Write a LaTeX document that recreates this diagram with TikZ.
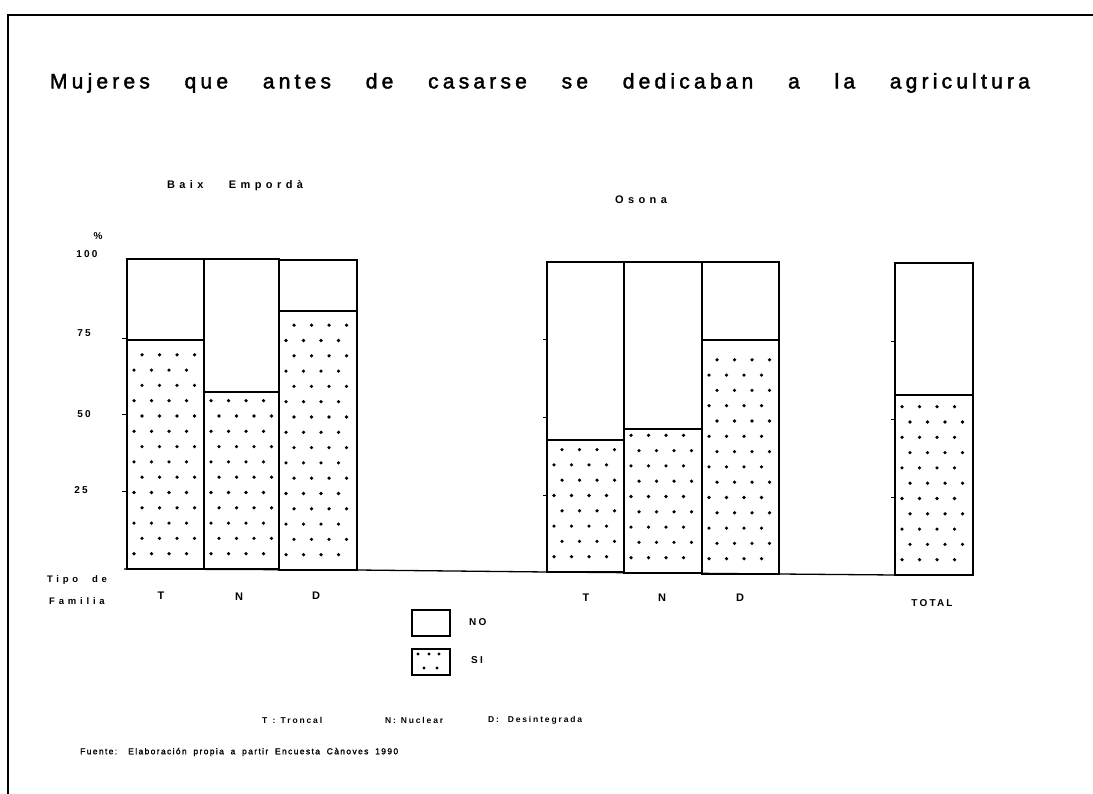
\documentclass[tikz,border=0pt]{standalone}
\usepackage{fontspec}
\setmainfont{Liberation Sans}
\newfontfamily\lblfont[LetterSpace=40]{Liberation Sans}
\newfontfamily\midfont[LetterSpace=22]{Liberation Sans}
\newfontfamily\srcfont[LetterSpace=16,FakeBold=1.5]{Liberation Sans}
\newfontfamily\titlefont[LetterSpace=20,FakeBold=2]{Liberation Sans}
\newcommand\sidots[3]{% left, top of SI part, bottom
  \foreach \k in {1,...,24}{%
    \pgfmathsetmacro\yy{#3-15.3*\k}%
    \pgfmathtruncatemacro\ok{(\yy > #2+6) ? 1 : 0}%
    \ifnum\ok=1
      \pgfmathsetmacro\xo{(mod(\k,2)==1) ? 7 : 15}%
      \foreach \i in {0,...,3}{\fill ({#1+\xo+17.5*\i},\yy) circle (1.8pt);}%
    \fi
  }%
}
\newcommand\stackbar[5]{% left, right, top, si-top, bottom
  \sidots{#1}{#4}{#5}%
  \draw[bar] (#1,#3) rectangle (#2,#5);
  \draw[bar] (#1,#4) -- (#2,#4);
}
\tikzset{
  bar/.style={draw=black, line width=1.3pt},
  frame/.style={draw=black, line width=1.8pt},
  tick/.style={draw=black, line width=0.9pt},
  lbl/.style={font=\lblfont\bfseries\fontsize{11}{12}\selectfont, inner sep=0pt},
  num/.style={font=\midfont\bfseries\fontsize{10}{11}\selectfont, inner sep=0pt},
  note/.style={font=\midfont\bfseries\fontsize{8.5}{10}\selectfont, inner sep=0pt},
  src/.style={font=\srcfont\fontsize{8.5}{10}\selectfont, inner sep=0pt},
}
\begin{document}
\begin{tikzpicture}[x=1pt,y=-1pt]
\useasboundingbox[fill=white] (0,0) rectangle (1093,794);
% frame
\draw[frame] (8,794) -- (8,15) -- (1093,15);
% title
\node[inner sep=0pt, font=\titlefont\fontsize{21}{24}\selectfont] (title) at (540,83)
  {\makebox[980pt][s]{Mujeres que antes de casarse se dedicaban a la agricultura}};
% group labels
\node[lbl] (baix) at (235,186) {\makebox[136pt][s]{Baix Empordà}};
\node[lbl] (osona) at (641,200) {Osona};
% axis labels
\node[num] (pct) at (98,236) {\%};
\node[num] (y100) at (87,254) {100};
\node[num] (y75) at (84,333) {75};
\node[num] (y50) at (84,414) {50};
\node[num] (y25) at (81,490) {25};
\node[lbl, font=\lblfont\bfseries\fontsize{9.5}{11}\selectfont] (tipo) at (77,580) {\makebox[60pt][s]{Tipo de}};
\node[lbl, font=\lblfont\bfseries\fontsize{9.5}{11}\selectfont] (fam) at (77,601) {Familia};
% baseline
\draw[bar] (124,569) -- (357,570) -- (547,572) -- (779,574) -- (895,575);
% ticks
\foreach \yy in {338,414,491}{\draw[tick] (122,\yy) -- (127,\yy);}
\foreach \yy in {339,417,495}{\draw[tick] (543,\yy) -- (547,\yy);}
\foreach \yy in {341,419,497}{\draw[tick] (891,\yy) -- (895,\yy);}
% Baix Emporda bars
\stackbar{127}{204}{259}{340}{569}
\stackbar{204}{279}{259}{392}{569}
\stackbar{279}{357}{260}{311}{570}
% Osona bars
\stackbar{547}{624}{262}{440}{572}
\stackbar{624}{702}{262}{429}{573}
\stackbar{702}{779}{262}{340}{574}
% Total bar
\stackbar{895}{973}{263}{395}{575}
% category labels
\node[lbl] (t1) at (161,596) {T};
\node[lbl] (n1) at (239,597) {N};
\node[lbl] (d1) at (316,596) {D};
\node[lbl] (t2) at (586,598) {T};
\node[lbl] (n2) at (662,598) {N};
\node[lbl] (d2) at (740,598) {D};
\node[lbl, font=\midfont\bfseries\fontsize{10}{12}\selectfont] (tot) at (932,603) {TOTAL};
% legend
\draw[bar] (412,610) rectangle (450,636);
\node[num, anchor=west] (no) at (469,622) {NO};
\draw[bar] (412,649) rectangle (450,675);
\foreach \xx in {418,429,439}{\fill (\xx,654) circle (1.6pt);}
\foreach \xx in {424,437}{\fill (\xx,668) circle (1.6pt);}
\node[num, anchor=west] (si) at (471,660) {SI};
% notes
\node[note, anchor=west] (kt) at (262,720) {\makebox[60pt][s]{T : Troncal}};
\node[note, anchor=west] (kn) at (385,720) {\makebox[58pt][s]{N: Nuclear}};
\node[note, anchor=west] (kd) at (488,720) {\makebox[94pt][s]{D: Desintegrada}};
\node[src, anchor=west] (fuente) at (80,752) {\makebox[318pt][s]{Fuente: Elaboración propia a partir Encuesta Cànoves 1990}};
\end{tikzpicture}
\end{document}
